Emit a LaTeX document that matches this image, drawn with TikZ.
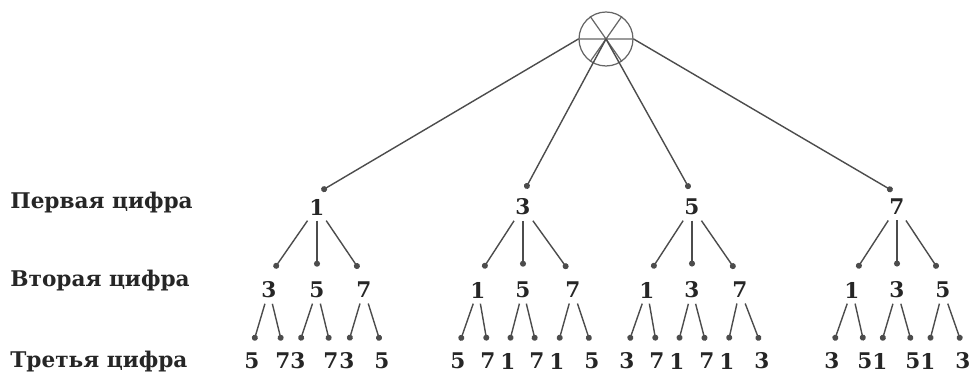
\documentclass[tikz,border=0pt]{standalone}
\usepackage{fontspec}
\setmainfont{DejaVu Serif}
\usetikzlibrary{arrows.meta}

\begin{document}
\begin{tikzpicture}[x=0.02cm, y=-0.02cm,
    every node/.style={font=\bfseries\fontsize{12.3}{14}\selectfont, text=black!85},
    digit/.style={inner xsep=3pt, inner ysep=3pt},
    rowlabel/.style={anchor=west, inner sep=0pt},
    branch/.style={draw=black!70, line width=0.8pt, -{Circle[length=3.4pt]}, shorten >=#1},
    branch/.default=4pt]
    \useasboundingbox (0,0) rectangle (971,374);

    % 1. ROOT (crossed circle at the top)
    \node[circle, draw=black!60, line width=0.7pt, minimum size=1.08cm, inner sep=0pt] (root) at (606,39) {};
    \draw[black!60, line width=0.7pt] (root.west) -- (root.east) (root.55) -- (root.235) (root.125) -- (root.305);

    % Row labels on the left
    \node[rowlabel] (lab1) at (10,203) {Первая цифра};
    \node[rowlabel] (lab2) at (10,281) {Вторая цифра};
    \node[rowlabel] (lab3) at (10,362) {Третья цифра};

    % 2. FIRST DIGIT
    \node[digit] (d1) at (317,207) {1};
    \node[digit] (d3) at (523,207) {3};
    \node[digit] (d5) at (692,207) {5};
    \node[digit] (d7) at (897,207) {7};
    \path (root.west) edge[branch=3pt] (d1.north)
          (root.center) edge[branch=3pt] (d3.north) edge[branch=3pt] (d5.north)
          (root.east) edge[branch=3pt] (d7.north);

    % 3. SECOND DIGIT
    \node[digit] (d13) at (269,290) {3};
    \node[digit] (d15) at (317,290) {5};
    \node[digit] (d17) at (364,290) {7};
    \node[digit] (d31) at (478,290) {1};
    \node[digit] (d35) at (523,290) {5};
    \node[digit] (d37) at (573,290) {7};
    \node[digit] (d51) at (647,290) {1};
    \node[digit] (d53) at (692,290) {3};
    \node[digit] (d57) at (740,290) {7};
    \node[digit] (d71) at (852,290) {1};
    \node[digit] (d73) at (897,290) {3};
    \node[digit] (d75) at (943,290) {5};
    \path (d1) edge[branch=5.5pt] (d13.north) edge[branch=5.5pt] (d15.north) edge[branch=5.5pt] (d17.north);
    \path (d3) edge[branch=5.5pt] (d31.north) edge[branch=5.5pt] (d35.north) edge[branch=5.5pt] (d37.north);
    \path (d5) edge[branch=5.5pt] (d51.north) edge[branch=5.5pt] (d53.north) edge[branch=5.5pt] (d57.north);
    \path (d7) edge[branch=5.5pt] (d71.north) edge[branch=5.5pt] (d73.north) edge[branch=5.5pt] (d75.north);

    % 4. THIRD DIGIT
    \node[digit] (d135) at (252,361) {5};
    \node[digit] (d137) at (283,361) {7};
    \node[digit] (d153) at (298,361) {3};
    \node[digit] (d157) at (331,361) {7};
    \node[digit] (d173) at (347,361) {3};
    \node[digit] (d175) at (382,361) {5};
    \node[digit] (d315) at (458,361) {5};
    \node[digit] (d317) at (488,361) {7};
    \node[digit] (d351) at (508,361) {1};
    \node[digit] (d357) at (537,361) {7};
    \node[digit] (d371) at (557,361) {1};
    \node[digit] (d375) at (592,361) {5};
    \node[digit] (d513) at (627,361) {3};
    \node[digit] (d517) at (657,361) {7};
    \node[digit] (d531) at (677,361) {1};
    \node[digit] (d537) at (707,361) {7};
    \node[digit] (d571) at (727,361) {1};
    \node[digit] (d573) at (762,361) {3};
    \node[digit] (d713) at (832,361) {3};
    \node[digit] (d715) at (865,361) {5};
    \node[digit] (d731) at (880,361) {1};
    \node[digit] (d735) at (913,361) {5};
    \node[digit] (d751) at (928,361) {1};
    \node[digit] (d753) at (963,361) {3};
    \path (d13) edge[branch] (d135.north) edge[branch] (d137.north);
    \path (d15) edge[branch] (d153.north) edge[branch] (d157.north);
    \path (d17) edge[branch] (d173.north) edge[branch] (d175.north);
    \path (d31) edge[branch] (d315.north) edge[branch] (d317.north);
    \path (d35) edge[branch] (d351.north) edge[branch] (d357.north);
    \path (d37) edge[branch] (d371.north) edge[branch] (d375.north);
    \path (d51) edge[branch] (d513.north) edge[branch] (d517.north);
    \path (d53) edge[branch] (d531.north) edge[branch] (d537.north);
    \path (d57) edge[branch] (d571.north) edge[branch] (d573.north);
    \path (d71) edge[branch] (d713.north) edge[branch] (d715.north);
    \path (d73) edge[branch] (d731.north) edge[branch] (d735.north);
    \path (d75) edge[branch] (d751.north) edge[branch] (d753.north);

\end{tikzpicture}
\end{document}
